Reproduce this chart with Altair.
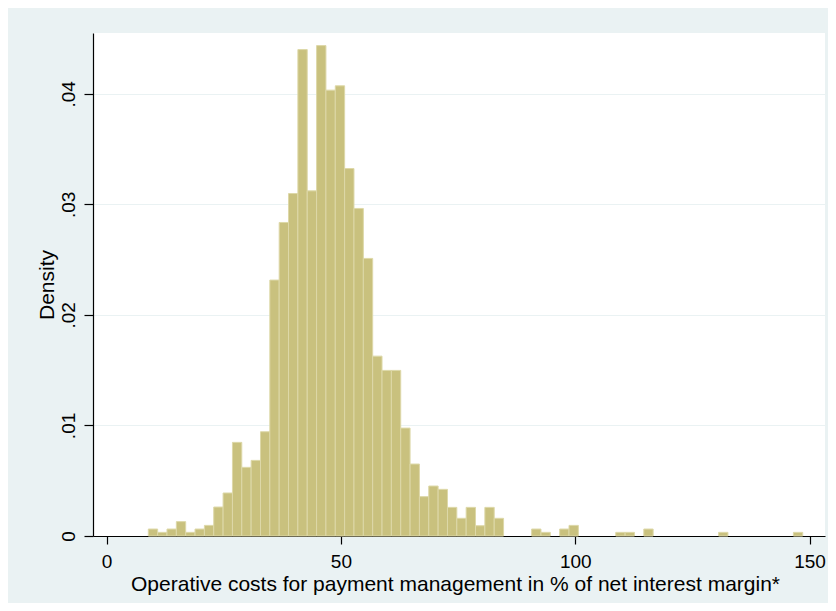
import altair as alt
import pandas as pd

# Histogram bins (value axis: % of net interest margin)
bin_start = 8.9
bin_width = 1.995
density = [
    0.00063, 0.00033, 0.00063, 0.00130, 0.00033, 0.00063, 0.00096, 0.00262,
    0.00389, 0.00847, 0.00621, 0.00684, 0.00943, 0.02315, 0.02836, 0.03098,
    0.04400, 0.03122, 0.04436, 0.04033, 0.04072, 0.03324, 0.02963, 0.02511,
    0.01627, 0.01498, 0.01498, 0.00976, 0.00651, 0.00356, 0.00452, 0.00422,
    0.00259, 0.00160, 0.00259, 0.00093, 0.00259, 0.00160, 0.0, 0.0,
    0.0, 0.00063, 0.00033, 0.0, 0.00063, 0.00096, 0.0, 0.0,
    0.0, 0.0, 0.00033, 0.00033, 0.0, 0.00063, 0.0, 0.0,
    0.0, 0.0, 0.0, 0.0, 0.0, 0.00033, 0.0, 0.0,
    0.0, 0.0, 0.0, 0.0, 0.0, 0.00033,
]
x_ticks = [0, 50, 100, 150]
y_ticks = [0, 0.01, 0.02, 0.03, 0.04]
x_title = "Operative costs for payment management in % of net interest margin*"
y_title = "Density"

df = pd.DataFrame({
    "lo": [bin_start + i * bin_width for i in range(len(density))],
    "hi": [bin_start + (i + 1) * bin_width for i in range(len(density))],
    "density": density,
})
df = df[df["density"] > 0]

FONT = "Liberation Sans"

bars = alt.Chart(df).mark_rect(
    color="#C9C17E", stroke="#DDD8A8", strokeWidth=1
).encode(
    x=alt.X("lo:Q",
            scale=alt.Scale(domain=[-2.9, 153.3], nice=False, zero=False),
            axis=alt.Axis(
                values=x_ticks, title=x_title, grid=False,
                domainColor="black", domainWidth=1.2,
                tickColor="black", tickSize=8, tickWidth=1.2,
                labelFont=FONT, labelFontSize=19, labelColor="black",
                labelBaseline="alphabetic", labelPadding=23,
                labelFlush=False,
                titleFont=FONT, titleFontSize=21, titleFontWeight="normal",
                titleColor="black", titleBaseline="alphabetic",
                titleX=362, titleY=54, titleAlign="center",
            )),
    x2="hi:Q",
    y=alt.Y("density:Q",
            scale=alt.Scale(domain=[0, 0.0455], nice=False),
            axis=alt.Axis(
                values=y_ticks, title=y_title, grid=True,
                gridColor="#EAF2F3", gridWidth=1.2,
                labelExpr="datum.value == 0 ? '0' : replace(format(datum.value, '.2f'), '0.', '.')",
                domainColor="black", domainWidth=1.2,
                tickColor="black", tickSize=9, tickWidth=1.2,
                labelFont=FONT, labelFontSize=19, labelColor="black",
                labelAngle=270, labelAlign="center", labelBaseline="alphabetic",
                labelPadding=10, labelFlush=False,
                titleFont=FONT, titleFontSize=21, titleFontWeight="normal",
                titleColor="black", titleAngle=270, titleBaseline="alphabetic",
                titleAlign="center", titleX=-40, titleY=251.5,
            )),
    y2=alt.datum(0),
)

chart = bars.properties(
    width=732, height=503,
    autosize=alt.AutoSizeParams(type="none"),
    padding={"left": 85, "top": 25, "right": 3, "bottom": 67},
    background="#EAF2F3",
).configure_view(fill="white", stroke=None)

chart.save("out.html", embed_options={"renderer": "svg", "actions": False})
